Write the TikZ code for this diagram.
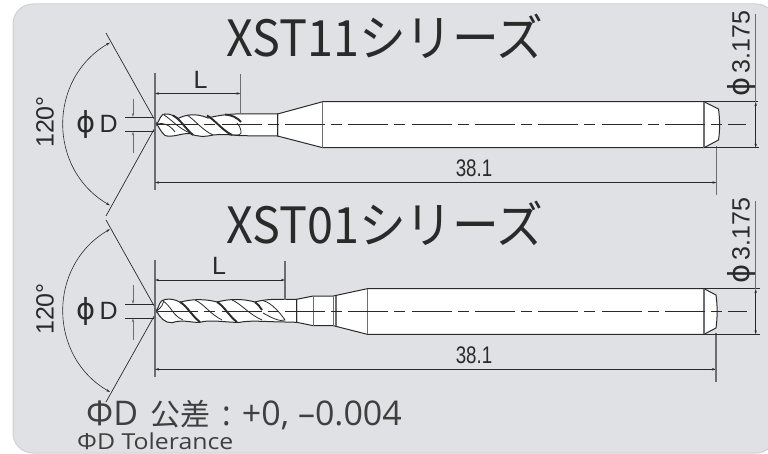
\documentclass[tikz,border=0pt]{standalone}
\usepackage{fontspec}
\usetikzlibrary{arrows.meta}
\setmainfont{Open Sans}
\newfontfamily\jpfont{Noto Sans CJK JP}
\newfontfamily\dimfont{Liberation Sans}
\newfontfamily\phifont{DejaVu Sans}
\newcommand{\bigphi}{{\phifont\fontsize{29}{29}\selectfont ϕ}}
\definecolor{panelgray}{HTML}{E0E1E5}
\definecolor{paneledge}{HTML}{CFD0D2}
\definecolor{inkdark}{HTML}{2B2A2B}
\definecolor{reflinegray}{HTML}{6D6E71}
\tikzset{
    titletext/.style={font=\jpfont\fontsize{50}{50}\selectfont,text=inkdark,inner sep=0pt,xscale=.935},
    dimtext/.style={font=\dimfont\fontsize{25}{25}\selectfont,text=inkdark,inner sep=0pt},
    lengthtext/.style={font=\dimfont\fontsize{24}{24}\selectfont,text=inkdark,inner sep=0pt,xscale=.78},
    dimline/.style={draw=inkdark,line width=.6pt,{Stealth[length=4pt,width=2.4pt]}-{Stealth[length=4pt,width=2.4pt]}},
    dimone/.style={draw=inkdark,line width=.6pt,-{Stealth[length=4pt,width=2.4pt]}},
    thinline/.style={draw=inkdark,line width=.7pt},
    refline/.style={draw=reflinegray,line width=1.1pt},
    toolbody/.style={draw=inkdark,line width=1pt,fill=white},
    centerline/.style={draw=inkdark,line width=.7pt,dash pattern=on 40pt off 6pt on 11pt off 6.3pt},
    fluteband/.style={draw=inkdark,line width=1.9pt},
    fluteedge/.style={draw=inkdark,line width=.8pt},
}
\begin{document}
\begin{tikzpicture}[x=1pt,y=-1pt]
    \useasboundingbox (0,0) rectangle (768,454);
    \draw[fill=panelgray,draw=paneledge,line width=1pt,rounded corners=20pt] (13,4) rectangle (776,453);

    % titles
    \node[titletext,anchor=base west] at (226,57) (title11) {XST11シリーズ};
    \node[titletext,anchor=base west] at (226,244) (title01) {XST01シリーズ};

    % upper tool
    \draw[toolbody] (277.5,114) -- (322.7,101.7) -- (704,101.7) -- (718.5,109) .. controls (720,120) and (720,130) .. (718.5,140) -- (704,147.7) -- (322.7,147.7) -- (277.5,136) -- cycle;
    \draw[toolbody] (157,124) .. controls (160,119) and (161,114) .. (165,114) .. controls (170,113.5) and (174,116) .. (178,118.5) .. controls (185,115) and (195,112.5) .. (208,118) .. controls (215,116) and (230,113.5) .. (241,114) -- (277.5,114) -- (277.5,136) -- (241,135.7) .. controls (232,135) and (225,134) .. (213,135) .. controls (205,137) and (197,137) .. (190,133.5) .. controls (182,133) and (172,138) .. (165,135.5) .. controls (162,133) and (159,128) .. (157,124) -- cycle;
    \draw[refline] (322.7,101.7) -- (322.7,147.7);
    \draw[refline] (704,101.7) -- (704,147.7);
    \draw[centerline] (158.4,124.3) -- (746,124.3);
    \draw[fluteband] (173,115.5) .. controls (180,119) and (185,128) .. (193,135);
    \draw[fluteband] (207,115.5) .. controls (215,120) and (222,130) .. (232,135);
    \draw[fluteedge] (187,115) .. controls (195,120) and (202,130) .. (213,135);
    \draw[fluteband] (225,114.5) .. controls (232,115) and (238,118) .. (241,122);
    \draw[fluteedge] (164,115) .. controls (172,120) and (178,128) .. (190,133);
    \draw[fluteedge] (157,124) .. controls (163,122) and (170,125) .. (175,132);
    \draw[fluteedge] (232,135) .. controls (238,135.5) and (242,135) .. (241,131) .. controls (240,127) and (239,125) .. (237,123);

    % lower tool
    \draw[toolbody] (296.7,299.3) -- (313.3,296) -- (333.3,296) -- (367.3,288.7) -- (704,288.7) -- (716,295) .. controls (717.5,305) and (717.5,318) .. (716,328) -- (704,334.3) -- (367.3,334.3) -- (333.3,325.7) -- (313.3,325.7) -- (296.7,322.3) -- cycle;
    \draw[toolbody] (156.7,311) .. controls (159,307) and (159,300) .. (165,299.5) .. controls (170,298.5) and (176,299.5) .. (180,302.3) .. controls (186,300.5) and (200,297.5) .. (217,302) .. controls (225,300) and (238,297.5) .. (255,302) .. controls (262,300) and (270,299.3) .. (278,299.3) -- (296.7,299.3) -- (296.7,322.3) -- (285,322) .. controls (270,322) and (250,320) .. (240,322.3) .. controls (230,323) and (210,319) .. (200,322.3) .. controls (192,323) and (183,319) .. (172,322.7) .. controls (165,323) and (160,318) .. (156.7,311) -- cycle;
    \draw[refline] (313.3,296) -- (313.3,325.7);
    \draw[refline] (333.3,296) -- (333.3,325.7);
    \draw[refline] (336,295.5) -- (336,326.2);
    \draw[refline] (367.3,288.7) -- (367.3,334.3);
    \draw[refline] (704,288.7) -- (704,334.3);
    \draw[centerline] (158.4,311.3) -- (746.7,311.3);
    \draw[fluteband] (180,302) .. controls (187,306) and (192,316) .. (200,322);
    \draw[fluteband] (217,302) .. controls (224,306) and (229,316) .. (237,322);
    \draw[fluteband] (255,302) .. controls (258,304) and (260,307) .. (262,310);
    \draw[fluteedge] (195,300) .. controls (204,304) and (210,314) .. (222,320);
    \draw[fluteedge] (232,300) .. controls (240,303) and (250,315) .. (262,320);
    \draw[fluteedge] (263.3,300.7) .. controls (272,303) and (281,314) .. (285,320) .. controls (280,322) and (272,318) .. (263,313);
    \draw[fluteedge] (163,301) .. controls (172,307) and (172,315) .. (183,320);
    \draw[fluteedge] (156.7,311) .. controls (162,307) and (163,304) .. (164,300.5);

    % upper dimensions
    \draw[thinline] (106,33) -- (157,124) -- (106,216);
    \draw[dimline] (110,42.6) .. controls (47.6,78.6) and (47.6,169.4) .. (110,205.4);
    \node[dimtext,rotate=90] at (45,122) (angle11) {120°};
    \node[dimtext,anchor=base] at (97,132.5) (dia11) {\bigphi\,D};
    \draw[thinline] (125,117.3) -- (156,117.3);
    \draw[thinline] (125,131.3) -- (156,131.3);
    \draw[dimone,draw=reflinegray] (133,98.6) -- (133,117);
    \draw[dimone,draw=reflinegray] (133,153) -- (133,131.5);
    \draw[refline] (155,73) -- (155,190.5);
    \draw[refline] (240.5,74) -- (240.5,113.5);
    \draw[dimline] (155,93.5) -- (240.5,93.5);
    \node[dimtext] at (200.5,80) (len11) {L};
    \draw[dimline] (155,182.5) -- (716.5,182.5);
    \draw[refline] (716.5,146) -- (716.5,195);
    \node[lengthtext] at (474,168) (total11) {38.1};
    \draw[thinline] (704,101.7) -- (758,101.7);
    \draw[thinline] (704,147.7) -- (759,147.7);
    \draw[refline] (755.7,14) -- (755.7,101.7);
    \draw[dimline] (755.7,102) -- (755.7,147.7);
    \node[dimtext,rotate=90] at (741.5,54) (shank11) {\bigphi\,3.175};

    % lower dimensions
    \draw[thinline] (106,220) -- (157,311) -- (106,402);
    \draw[dimline] (110,229.2) .. controls (47.6,265.2) and (47.6,356) .. (110,392);
    \node[dimtext,rotate=90] at (45,309) (angle01) {120°};
    \node[dimtext,anchor=base] at (97,319.5) (dia01) {\bigphi\,D};
    \draw[thinline] (125,304.3) -- (156,304.3);
    \draw[thinline] (125,318) -- (156,318);
    \draw[dimone,draw=reflinegray] (133,285.5) -- (133,304);
    \draw[dimone,draw=reflinegray] (133,339.5) -- (133,318.3);
    \draw[refline] (155,260) -- (155,377);
    \draw[refline] (285,261) -- (285,300);
    \draw[dimline] (155,280) -- (285,280);
    \node[dimtext] at (219,266) (len01) {L};
    \draw[dimline] (155,369.3) -- (716,369.3);
    \draw[refline] (716,332.7) -- (716,381.7);
    \node[lengthtext] at (474,355) (total01) {38.1};
    \draw[thinline] (704,288.7) -- (760,288.7);
    \draw[thinline] (704,334.3) -- (760,334.3);
    \draw[refline] (755.7,200.6) -- (755.7,288.7);
    \draw[dimline] (755.7,289) -- (755.7,334.3);
    \node[dimtext,rotate=90] at (741.5,241) (shank01) {\bigphi\,3.175};

    % tolerance
    \node[anchor=base west,inner sep=0pt,text=inkdark!90,font=\fontsize{34}{34}\selectfont] at (86,425) (tolja) {ΦD\hspace{4pt} {\jpfont\fontsize{30}{30}\selectfont 公差}\hspace{11pt}:\hspace{11pt}+0, –0.004};
    \node[anchor=base west,inner sep=0pt,text=inkdark!90,font=\fontsize{22}{22}\selectfont,xscale=1.13] at (77,449) (tolen) {ΦD Tolerance};
\end{tikzpicture}
\end{document}
